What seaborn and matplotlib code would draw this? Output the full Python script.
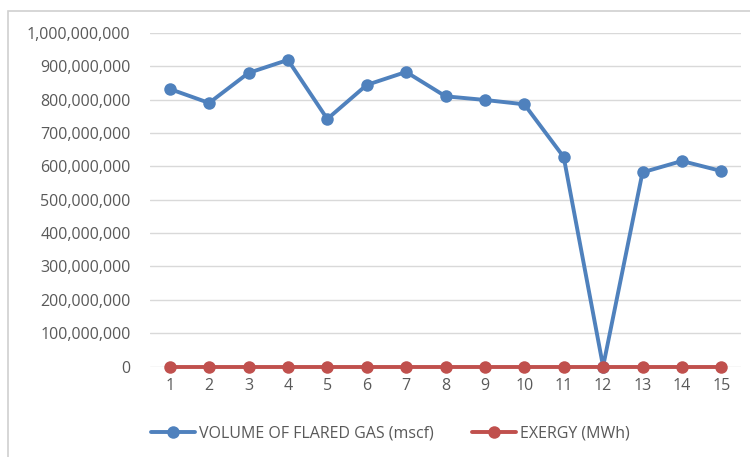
import matplotlib
matplotlib.use("Agg")
import matplotlib.pyplot as plt
import numpy as np
import pandas as pd
import seaborn as sns
from matplotlib.patches import Rectangle
from matplotlib.ticker import FuncFormatter

PERIODS = list(range(1, 16))
FLARED_GAS = [832e6, 790e6, 880e6, 919e6, 742e6, 844e6, 883e6, 810e6,
              799e6, 786e6, 628e6, 0, 582e6, 616e6, 586e6]
EXERGY = [0] * 15
SERIES_NAMES = ["VOLUME OF FLARED GAS (mscf)", "EXERGY (MWh)"]
Y_TICKS = list(range(0, 1_000_000_001, 100_000_000))

BLUE = "#4F81BD"
RED = "#C0504D"
TEXT = "#595959"

df = pd.DataFrame({
    "period": PERIODS * 2,
    "value": FLARED_GAS + EXERGY,
    "series": [SERIES_NAMES[0]] * 15 + [SERIES_NAMES[1]] * 15,
})

sns.set_theme(style="white")
plt.rcParams["font.family"] = ["Open Sans", "DejaVu Sans"]

fig = plt.figure(figsize=(7.5, 4.57), dpi=100)
ax = fig.add_axes([0.2, 0.198, 0.788, 0.73])

sns.lineplot(data=df, x="period", y="value", hue="series", hue_order=SERIES_NAMES,
             palette=[BLUE, RED], marker="o", markersize=9, markeredgewidth=0,
             linewidth=2.8, ax=ax, clip_on=False, legend=True)

ax.set_xlim(0.5, 15.5)
ax.set_ylim(0, 1_000_000_000)
ax.set_xticks(PERIODS)
ax.set_yticks(Y_TICKS)
ax.yaxis.set_major_formatter(FuncFormatter(lambda v, p: f"{int(v):,}"))
ax.grid(axis="y", color="#D9D9D9", linewidth=1)
ax.set_axisbelow(True)
for s in ax.spines.values():
    s.set_visible(False)
ax.tick_params(axis="both", length=0, labelsize=11.5, colors=TEXT, pad=8)
ax.tick_params(axis="y", pad=14)
ax.set_xlabel("")
ax.set_ylabel("")

handles, labels = ax.get_legend_handles_labels()
ax.legend(handles, labels, loc="center", bbox_to_anchor=(0.52, 0.052),
          bbox_transform=fig.transFigure, ncol=2, frameon=False,
          fontsize=11.5, labelcolor=TEXT, handlelength=2.8, handletextpad=0.2,
          columnspacing=2.4)

fig.patches.append(Rectangle((8 / 750, -0.1), 1.2, 1 - 11 / 457 + 0.1,
                             transform=fig.transFigure, fill=False,
                             edgecolor="#D0D0D0", linewidth=1.2))

fig.savefig("out.png", dpi=100)
